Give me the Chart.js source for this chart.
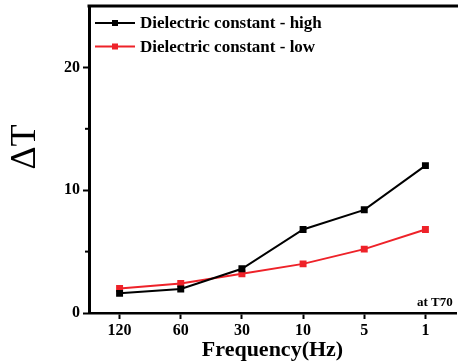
<!DOCTYPE html>
<html>
<head>
<meta charset="utf-8">
<script src="https://cdn.jsdelivr.net/npm/chart.js@4"></script>
<style>
  html, body { margin: 0; padding: 0; background: #fff; overflow: hidden; }
  #wrap { width: 459px; height: 364px; overflow: hidden; }
</style>
</head>
<body>
<div id="wrap"><canvas id="chart" width="462" height="364"></canvas></div>
<script>
// data
const frequencies = ['120', '60', '30', '10', '5', '1'];
const highValues = [1.6, 1.95, 3.6, 6.8, 8.4, 12.0];
const lowValues = [2.0, 2.4, 3.2, 4.0, 5.2, 6.8];
const yMinorTicks = [5, 15];

const serif = "'Liberation Serif', 'Times New Roman', serif";

// legend, minor ticks, frame and extra labels
const decorPlugin = {
    id: 'decor',
    afterDraw(chart) {
        const ctx = chart.ctx;
        const area = chart.chartArea;
        const yScale = chart.scales.y;
        ctx.save();

        // top frame line
        ctx.strokeStyle = '#000';
        ctx.lineWidth = 3;
        ctx.beginPath();
        ctx.moveTo(area.left - 1.5, area.top);
        ctx.lineTo(area.right + 2, area.top);
        ctx.stroke();

        // minor ticks on y axis
        ctx.lineWidth = 2;
        yMinorTicks.forEach(v => {
            const y = yScale.getPixelForValue(v);
            ctx.beginPath();
            ctx.moveTo(area.left - 4, y);
            ctx.lineTo(area.left, y);
            ctx.stroke();
        });

        // legend
        chart.data.datasets.forEach((ds, i) => {
            const y = 23 + i * 23.5;
            ctx.strokeStyle = ds.borderColor;
            ctx.lineWidth = 2;
            ctx.beginPath();
            ctx.moveTo(95, y);
            ctx.lineTo(135, y);
            ctx.stroke();
            ctx.fillStyle = ds.borderColor;
            ctx.fillRect(112, y - 3, 6, 6);
            ctx.fillStyle = '#000';
            ctx.font = 'bold 17px ' + serif;
            ctx.textBaseline = 'middle';
            ctx.textAlign = 'left';
            ctx.fillText(ds.label, 140, y + 1);
        });

        // note at lower right
        ctx.font = 'bold 13px ' + serif;
        ctx.textAlign = 'left';
        ctx.textBaseline = 'middle';
        ctx.fillStyle = '#000';
        ctx.fillText('at T70', 417, 303);

        // y axis title
        ctx.translate(26, 147);
        ctx.rotate(-Math.PI / 2);
        ctx.font = '36px ' + serif;
        ctx.textAlign = 'center';
        ctx.textBaseline = 'middle';
        ctx.fillText('\u0394T', 0, 0);
        ctx.restore();
    }
};

const ctx = document.getElementById('chart').getContext('2d');
new Chart(ctx, {
    type: 'line',
    data: {
        labels: frequencies,
        datasets: [{
            label: 'Dielectric constant - high',
            data: highValues,
            borderColor: '#000000',
            backgroundColor: '#000000',
            borderWidth: 2,
            pointStyle: 'rect',
            pointRadius: 3.5,
            tension: 0
        }, {
            label: 'Dielectric constant - low',
            data: lowValues,
            borderColor: '#ee2229',
            backgroundColor: '#ee2229',
            borderWidth: 2,
            pointStyle: 'rect',
            pointRadius: 3.5,
            tension: 0
        }]
    },
    options: {
        responsive: false,
        animation: false,
        layout: { padding: { top: 5, right: 2, left: 0, bottom: 0 } },
        plugins: {
            legend: { display: false },
            tooltip: { enabled: false }
        },
        scales: {
            x: {
                offset: true,
                grid: {
                    drawOnChartArea: false,
                    drawTicks: true,
                    tickLength: 6,
                    tickWidth: 2,
                    tickColor: '#000',
                    offset: false
                },
                border: { display: true, color: '#000', width: 2.5 },
                ticks: {
                    color: '#000',
                    font: { family: serif, size: 16, weight: 'bold' },
                    padding: 2,
                    maxRotation: 0
                },
                title: {
                    display: true,
                    text: 'Frequency(Hz)',
                    color: '#000',
                    font: { family: serif, size: 22, weight: 'bold' },
                    padding: { top: 0, bottom: 0 }
                },
                afterFit(scale) {
                    scale.height = 51;
                    scale.paddingLeft = 0;
                    scale.paddingRight = 0;
                }
            },
            y: {
                min: 0,
                max: 25,
                grid: {
                    drawOnChartArea: false,
                    drawTicks: true,
                    tickLength: 6,
                    tickWidth: 2,
                    tickColor: '#000'
                },
                border: { display: true, color: '#000', width: 3 },
                ticks: {
                    stepSize: 10,
                    includeBounds: false,
                    color: '#000',
                    font: { family: serif, size: 16, weight: 'bold' },
                    padding: 3
                },
                afterFit(scale) {
                    scale.width = 89;
                    scale.paddingTop = 0;
                    scale.paddingBottom = 0;
                }
            }
        }
    },
    plugins: [decorPlugin]
});
</script>
</body>
</html>
